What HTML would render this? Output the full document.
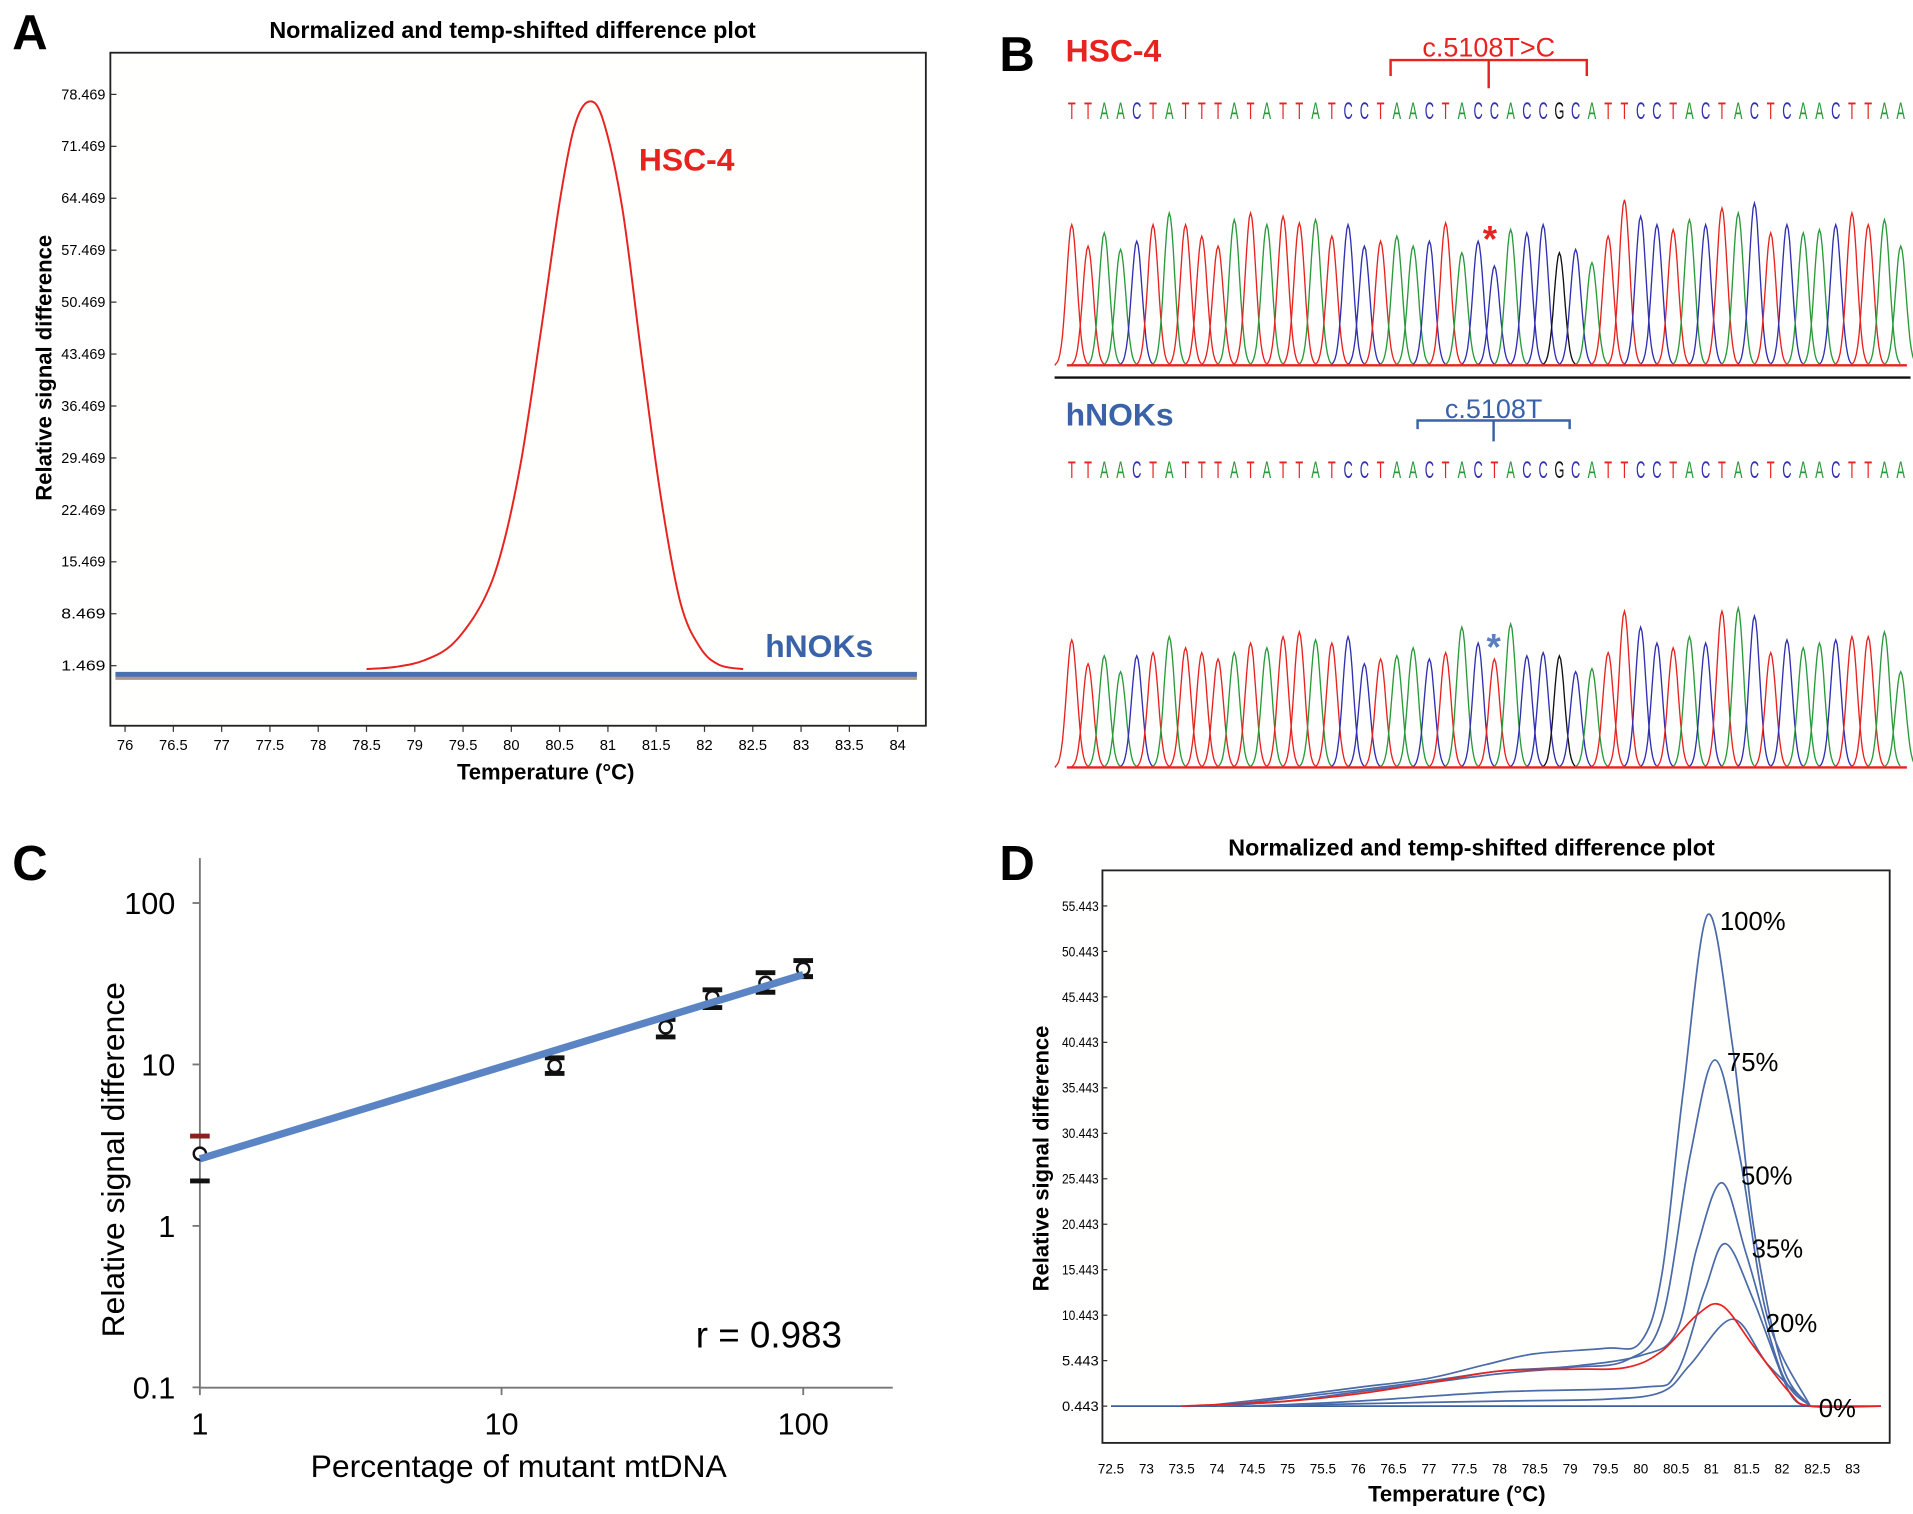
<!DOCTYPE html>
<html><head><meta charset="utf-8">
<style>
html,body{margin:0;padding:0;background:#fff;width:1913px;height:1514px;overflow:hidden}
svg{display:block}
text{font-family:"Liberation Sans",sans-serif}
.n{font-family:"Liberation Sans Narrow","Liberation Sans",sans-serif}
</style></head>
<body>
<svg id="fig" width="1913" height="1514" viewBox="0 0 1560 1235" preserveAspectRatio="none" xmlns="http://www.w3.org/2000/svg">
<rect width="1560" height="1235" fill="#fff"/>
<text x="10" y="40" font-size="40" font-weight="bold">A</text>
<text x="418" y="31" font-size="19" font-weight="bold" text-anchor="middle">Normalized and temp-shifted difference plot</text>
<rect x="90" y="43" width="665" height="549" fill="#fffffd" stroke="#222" stroke-width="1.5"/>
<text transform="translate(42,300) rotate(-90)" font-size="18" font-weight="bold" text-anchor="middle">Relative signal difference</text>
<text x="445" y="636" font-size="18" font-weight="bold" text-anchor="middle">Temperature (°C)</text>
<g id="gA"></g>
<text x="815" y="58" font-size="40" font-weight="bold">B</text>
<g id="gB"></g>
<text x="10" y="718" font-size="40" font-weight="bold">C</text>
<g id="gC"></g>
<text x="815" y="718" font-size="40" font-weight="bold">D</text>
<text x="1200" y="698" font-size="19" font-weight="bold" text-anchor="middle">Normalized and temp-shifted difference plot</text>
<rect x="899" y="710" width="642" height="467" fill="#fffffd" stroke="#222" stroke-width="1.5"/>
<text transform="translate(855,945) rotate(-90)" font-size="18" font-weight="bold" text-anchor="middle">Relative signal difference</text>
<text x="1188" y="1225" font-size="18" font-weight="bold" text-anchor="middle">Temperature (°C)</text>
<g id="gD"></g>
</svg>
<script>
// Panel A
const aYTicks = [78.469,71.469,64.469,57.469,50.469,43.469,36.469,29.469,22.469,15.469,8.469,1.469];
const aXTicks = [76,76.5,77,77.5,78,78.5,79,79.5,80,80.5,81,81.5,82,82.5,83,83.5,84];
const aHscT = [78.5,78.8,79.1,79.4,79.7,79.9,80.1,80.3,80.5,80.65,80.8,80.95,81.15,81.35,81.55,81.75,81.95,82.15,82.4];
const aHscV = [1.0,1.3,2.2,4.5,10,17,29,46,64,74,77.5,75,63,43,24,10,4,1.6,1.0];
const aNokT = [75.9,84.2];
const aNokV = [0.3,0.3];
// Panel B
const bSeqTop = "TTAACTATTTATATTATCCTAACTACCACCGCATTCCTACTACTCAACTTAA";
const bSeqBot = "TTAACTATTTATATTATCCTAACTACTACCGCATTCCTACTACTCAACTTAA";
const bHeightsTop = [0.85,0.72,0.8,0.7,0.75,0.85,0.92,0.85,0.78,0.72,0.88,0.92,0.85,0.9,0.86,0.88,0.78,0.85,0.72,0.75,0.78,0.72,0.75,0.86,0.68,0.75,0.6,0.82,0.8,0.85,0.68,0.7,0.62,0.78,1.0,0.9,0.85,0.82,0.88,0.85,0.95,0.92,0.98,0.8,0.85,0.8,0.82,0.85,0.92,0.85,0.88,0.72];
const bHeightsBot = [0.8,0.65,0.7,0.6,0.7,0.72,0.82,0.75,0.72,0.68,0.72,0.78,0.75,0.82,0.85,0.8,0.78,0.82,0.65,0.68,0.7,0.75,0.68,0.72,0.88,0.78,0.68,0.9,0.7,0.72,0.7,0.6,0.62,0.72,0.98,0.88,0.78,0.75,0.82,0.78,0.98,1.0,0.95,0.72,0.8,0.75,0.78,0.8,0.82,0.82,0.85,0.6];
// Panel C
const cX = [1,15,35,50,75,100];
const cY = [2.8,9.8,17,26,32,39];
const cLo = [1.9,8.8,14.8,22.5,28,35];
const cHi = [3.6,11,19,29,37,44];
const cFitX = [1,100];
const cFitY = [2.6,36];
const cYTicks = [0.1,1,10,100];
const cXTicks = [1,10,100];
// Panel D
const dYTicks = [55.443,50.443,45.443,40.443,35.443,30.443,25.443,20.443,15.443,10.443,5.443,0.443];
const dXTicks = [72.5,73,73.5,74,74.5,75,75.5,76,76.5,77,77.5,78,78.5,79,79.5,80,80.5,81,81.5,82,82.5,83];
const d100T = [73.8,75,76,77,77.8,78.5,79.5,80,80.3,80.6,80.95,81.3,81.6,82,82.4];
const d100V = [0.44,1.5,2.5,3.5,5,6.2,6.8,7.5,15,35,54.5,40,20,5,0.44];
const d75T = [74,75,76,77,78,79,79.8,80.3,80.7,81.05,81.4,81.8,82.4];
const d75V = [0.44,1,2,3,4,4.7,5.5,10,28,38.5,28,10,0.44];
const d50T = [74,75,76,77,78,79,80,80.5,80.8,81.15,81.5,82,82.4];
const d50V = [0.44,1.3,2.2,3.2,4.3,4.8,6,8.5,18,25,17,4,0.44];
const d35T = [74.5,76,78,80,80.5,80.9,81.2,81.6,82.1,82.4];
const d35V = [0.44,1,2,2.5,4,13,18.3,12,2,0.44];
const d20T = [73.5,75,76,77,78,79,79.8,80.3,80.8,81.15,81.6,82.1,82.4,83.4];
const d20V = [0.44,1,1.8,3,4.3,4.5,4.7,6.5,10.5,11.5,7,2,0.44,0.44];
const dLowT = [74.5,76,78,79.5,80.3,80.7,81.3,81.8,82.4];
const dLowV = [0.44,0.7,1,1.2,2,5,10,5,0.44];
const d0T = [72.5,83.4];
const d0V = [0.443,0.443];
const dLabels = ["100%","75%","50%","35%","20%","0%"];
const dLabelT = [81.05,81.15,81.35,81.5,81.7,82.45];
const dLabelV = [54,38.5,26,18,9.8,0.443];

const NS="http://www.w3.org/2000/svg";
function mk(parent,tag,attrs,txt){const e=document.createElementNS(NS,tag);for(const k in attrs)e.setAttribute(k,attrs[k]);if(txt!==undefined)e.textContent=txt;parent.appendChild(e);return e;}
function smooth(pts){let d="M"+pts[0][0].toFixed(1)+","+pts[0][1].toFixed(1);for(let i=0;i<pts.length-1;i++){const p0=pts[Math.max(0,i-1)],p1=pts[i],p2=pts[i+1],p3=pts[Math.min(pts.length-1,i+2)];const c1=[p1[0]+(p2[0]-p0[0])/6,p1[1]+(p2[1]-p0[1])/6],c2=[p2[0]-(p3[0]-p1[0])/6,p2[1]-(p3[1]-p1[1])/6];d+=" C"+c1[0].toFixed(1)+","+c1[1].toFixed(1)+" "+c2[0].toFixed(1)+","+c2[1].toFixed(1)+" "+p2[0].toFixed(1)+","+p2[1].toFixed(1);}return d;}

(function(){
const g=document.getElementById('gA');
const xA=t=>102+(t-76)*78.75, yA=v=>543-(v-1.469)*(466/77);
aYTicks.forEach(v=>{const y=yA(v);
 const tk=mk(g,'line',{x1:90,x2:95,y1:y,y2:y,stroke:'#333'});
 
 const t=mk(g,'text',{x:86,y:y+4,'font-size':12,'text-anchor':'end',class:'n',textLength:36,lengthAdjust:'spacingAndGlyphs'},v.toFixed(3));
 });
aXTicks.forEach(v=>{const x=xA(v);
 const tk=mk(g,'line',{x1:x,x2:x,y1:592,y2:597,stroke:'#333'});
 
 const t=mk(g,'text',{x:x,y:612,'font-size':12,'text-anchor':'middle',class:'n'},String(v));
 });
const nok=mk(g,'line',{x1:xA(aNokT[0]),x2:xA(aNokT[1]),y1:yA(aNokV[0])+3,y2:yA(aNokV[1])+3,stroke:'#a89a88','stroke-width':3});

const hsc=mk(g,'path',{d:smooth(aHscT.map((t,i)=>[xA(t),yA(aHscV[i])])),fill:'none',stroke:'#e8231f','stroke-width':1.6});

const nk=mk(g,'line',{x1:xA(aNokT[0]),x2:xA(aNokT[1]),y1:yA(aNokV[0]),y2:yA(aNokV[1]),stroke:'#4a6fb0','stroke-width':4});

const l1=mk(g,'text',{x:521,y:139,'font-size':26,'font-weight':'bold',fill:'#e8231f'},'HSC-4');

const l2=mk(g,'text',{x:624,y:536,'font-size':26,'font-weight':'bold',fill:'#3a62a8'},'hNOKs');

})();

(function(){
const g=document.getElementById('gB');
const col={T:'#e8231f',A:'#2a9a3a',C:'#3030b0',G:'#111'};
const x0=874,x1=1550;
const px=i=>x0+i*(x1-x0)/(bSeqTop.length-1);
function block(seq,hs,seqY,base,amp,name){
 seq.split('').forEach((c,i)=>{
  const t=mk(g,'text',{x:px(i),y:seqY,'font-size':15,'text-anchor':'middle',fill:col[c],class:'n',transform:`translate(${px(i)},${seqY}) scale(0.7,1.3) translate(${-px(i)},${-seqY})`},c);
  
  const h=hs[i]*amp, x=px(i), w=4.3;
  let d="M"+(x-3.2*w).toFixed(1)+","+base;
  for(let k=-3;k<=3;k+=0.25){d+=" L"+(x+k*w).toFixed(1)+","+(base-h*Math.exp(-k*k/2)).toFixed(1);}
  const p=mk(g,'path',{d:d,fill:'none',stroke:col[c],'stroke-width':1.1});
  
 });
 const bl=mk(g,'line',{x1:870,x2:1555,y1:base,y2:base,stroke:'#e8231f','stroke-width':2});
 
}
block(bSeqTop,bHeightsTop,97,298,135,'hsc4');
block(bSeqBot,bHeightsBot,390,626,130,'hnoks');
const sep=mk(g,'line',{x1:860,x2:1558,y1:308,y2:308,stroke:'#111','stroke-width':2});

const t1=mk(g,'text',{x:869,y:50,'font-size':26,'font-weight':'bold',fill:'#e8231f'},'HSC-4');

const t2=mk(g,'text',{x:869,y:347,'font-size':26,'font-weight':'bold',fill:'#3a62a8'},'hNOKs');

const b1=mk(g,'path',{d:'M1134,62 L1134,49 L1294,49 L1294,62 M1214,49 L1214,72',fill:'none',stroke:'#e8231f','stroke-width':2});

const m1=mk(g,'text',{x:1214,y:46,'font-size':22,'text-anchor':'middle',fill:'#e8231f'},'c.5108T>C');

const b2=mk(g,'path',{d:'M1156,350 L1156,343 L1280,343 L1280,350 M1218,343 L1218,360',fill:'none',stroke:'#3a62a8','stroke-width':2});

const m2=mk(g,'text',{x:1218,y:341,'font-size':22,'text-anchor':'middle',fill:'#3a62a8'},'c.5108T');

const s1=mk(g,'text',{x:1215,y:205,'font-size':30,'font-weight':'bold','text-anchor':'middle',fill:'#e8231f'},'*');

const s2=mk(g,'text',{x:1218,y:538,'font-size':30,'font-weight':'bold','text-anchor':'middle',fill:'#5a7fc0'},'*');

})();

(function(){
const g=document.getElementById('gC');
const xC=v=>163+Math.log10(v)*246, yC=v=>1000-Math.log10(v)*131.7;
const ax=mk(g,'path',{d:'M163,700 L163,1132 L728,1132',fill:'none',stroke:'#777','stroke-width':1.5});

cYTicks.forEach(v=>{const y=yC(v);
 const tk=mk(g,'line',{x1:157,x2:163,y1:y,y2:y,stroke:'#777','stroke-width':1.5});
 
 const t=mk(g,'text',{x:143,y:y+9,'font-size':25,'text-anchor':'end',class:'n'},String(v));
 });
cXTicks.forEach(v=>{const x=xC(v);
 const tk=mk(g,'line',{x1:x,x2:x,y1:1132,y2:1138,stroke:'#777','stroke-width':1.5});
 
 const t=mk(g,'text',{x:x,y:1170,'font-size':25,'text-anchor':'middle',class:'n'},String(v));
 });
cX.forEach((v,i)=>{const x=xC(v);
 const e1=mk(g,'line',{x1:x-8,x2:x+8,y1:yC(cHi[i]),y2:yC(cHi[i]),stroke:i===0?'#8a2020':'#111','stroke-width':4});
 
 const e2=mk(g,'line',{x1:x-8,x2:x+8,y1:yC(cLo[i]),y2:yC(cLo[i]),stroke:'#111','stroke-width':4});
 
 const c=mk(g,'circle',{cx:x,cy:yC(cY[i]),r:5,fill:'#fff',stroke:'#111','stroke-width':2});
 });
const fit=mk(g,'line',{x1:xC(cFitX[0]),y1:yC(cFitY[0]),x2:xC(cFitX[1]),y2:yC(cFitY[1]),stroke:'#5b84c4','stroke-width':6});

const yl=mk(g,'text',{transform:'translate(101,946) rotate(-90)','font-size':26,'text-anchor':'middle',class:'n'},'Relative signal difference');

const xl=mk(g,'text',{x:423,y:1205,'font-size':26,'text-anchor':'middle',class:'n'},'Percentage of mutant mtDNA');

const r=mk(g,'text',{x:627,y:1099,'font-size':30,'text-anchor':'middle',class:'n'},'r = 0.983');

})();

(function(){
const g=document.getElementById('gD');
const xD=t=>906+(t-72.5)*57.6, yD=v=>1147-(v-0.443)*(408/55);
dYTicks.forEach(v=>{const y=yD(v);
 const tk=mk(g,'line',{x1:899,x2:903,y1:y,y2:y,stroke:'#333'});
 
 const t=mk(g,'text',{x:896,y:y+4,'font-size':11,'text-anchor':'end',class:'n',textLength:30,lengthAdjust:'spacingAndGlyphs'},v.toFixed(3));
 });
dXTicks.forEach(v=>{const x=xD(v);
 const t=mk(g,'text',{x:x,y:1202,'font-size':11,'text-anchor':'middle',class:'n'},String(v));
 });
const series=[[d0T,d0V,'#3a5fa0','d-curve-0'],[dLowT,dLowV,'#4a6aa8','d-curve-low'],[d35T,d35V,'#4a6aa8','d-curve-35'],[d50T,d50V,'#4a6aa8','d-curve-50'],[d75T,d75V,'#4a6aa8','d-curve-75'],[d100T,d100V,'#4a6aa8','d-curve-100'],[d20T,d20V,'#e8231f','d-curve-20']];
series.forEach(s=>{
 const p=mk(g,'path',{d:smooth(s[0].map((t,i)=>[xD(t),yD(s[1][i])])),fill:'none',stroke:s[2],'stroke-width':1.4});
 });
dLabels.forEach((l,i)=>{
 const t=mk(g,'text',{x:xD(dLabelT[i])+4,y:yD(dLabelV[i])+9,'font-size':21,class:'n'},l);
 });
})();
</script>
</body></html>
